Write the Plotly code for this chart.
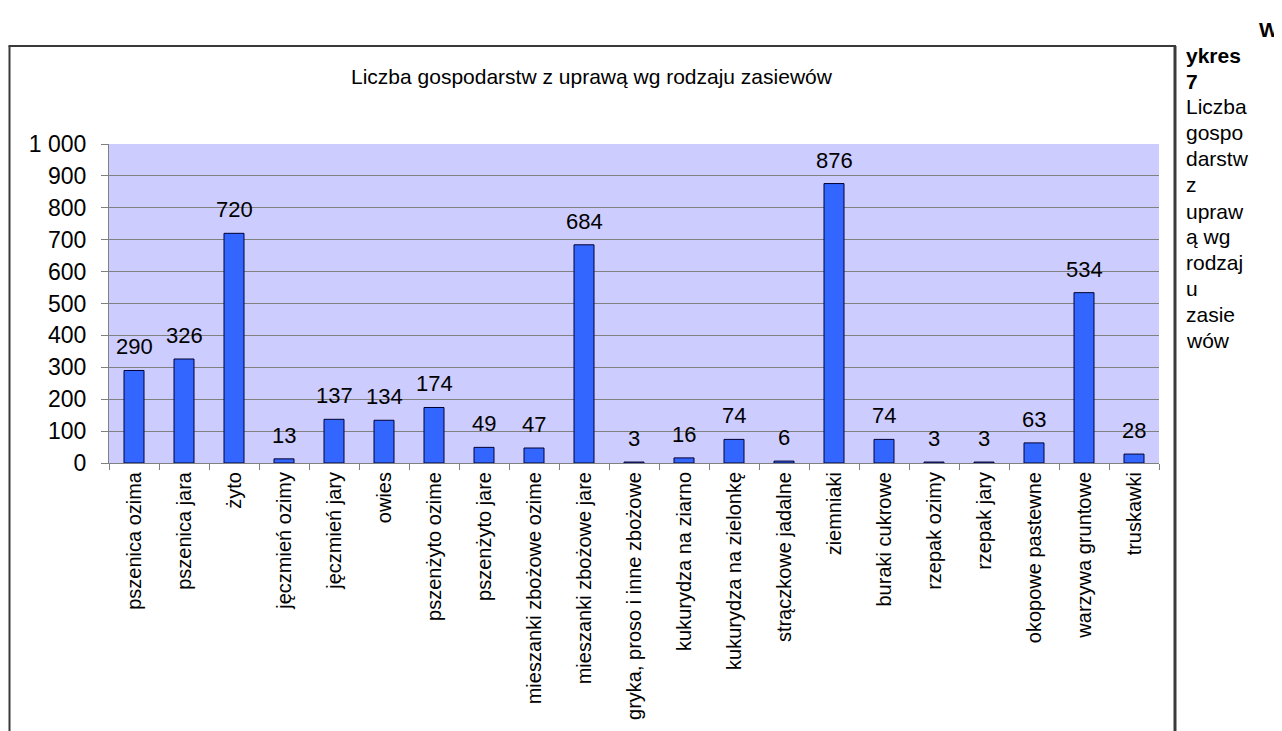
import plotly.graph_objects as go

categories = ["pszenica ozima", "pszenica jara", "żyto", "jęczmień ozimy", "jęczmień jary",
              "owies", "pszenżyto ozime", "pszenżyto jare", "mieszanki zbożowe ozime",
              "mieszanki zbożowe jare", "gryka, proso i inne zbożowe", "kukurydza na ziarno",
              "kukurydza na zielonkę", "strączkowe jadalne", "ziemniaki", "buraki cukrowe",
              "rzepak ozimy", "rzepak jary", "okopowe pastewne", "warzywa gruntowe", "truskawki"]
values = [290, 326, 720, 13, 137, 134, 174, 49, 47, 684, 3, 16, 74, 6, 876, 74, 3, 3, 63, 534, 28]
y_tickvals = [0, 100, 200, 300, 400, 500, 600, 700, 800, 900, 1000]
y_ticktext = ["0", "100", "200", "300", "400", "500", "600", "700", "800", "900", "1 000"]
title_text = "Liczba gospodarstw z uprawą wg rodzaju zasiewów"
side_lines = ["<b>W</b>", "<b>ykres</b>", "<b>7</b>", "Liczba", "gospo", "darstw", "z",
              "upraw", "ą wg", "rodzaj", "u", "zasie", "wów"]
side_align = ["right", "left", "left", "left", "left", "left", "left",
              "left", "left", "left", "left", "left", "left"]

FONT = "Arial, Liberation Sans, sans-serif"
OFF = 8  # page body margin
W, H = 1282 - OFF, 731 - OFF
# plot area in reference-page pixels
L, R, T, B = 109, 1159, 144, 463

def px_x(px):
    return (px - L) / (R - L)

def px_y(py):
    return (B - py) / (B - T)

fig = go.Figure()
fig.add_trace(go.Bar(
    x=categories, y=values,
    marker=dict(color="#3366FF", line=dict(color="#000033", width=1)),
    hoverinfo="x+y",
))

for c, v in zip(categories, values):
    fig.add_annotation(x=c, y=v, text=str(v), showarrow=False, yanchor="bottom",
                       yshift=9, font=dict(family=FONT, size=22, color="#000000"))

# chart frame (left, top, right)
frame_color = "#3a3a3a"
fig.add_shape(type="line", xref="paper", yref="paper", x0=px_x(9.5), x1=px_x(9.5),
              y0=px_y(46), y1=px_y(760), line=dict(color=frame_color, width=2))
fig.add_shape(type="line", xref="paper", yref="paper", x0=px_x(8.5), x1=px_x(1176),
              y0=px_y(46), y1=px_y(46), line=dict(color=frame_color, width=2))
fig.add_shape(type="line", xref="paper", yref="paper", x0=px_x(1175), x1=px_x(1175),
              y0=px_y(46), y1=px_y(760), line=dict(color=frame_color, width=3))

fig.add_annotation(xref="paper", yref="paper", x=px_x(592), y=px_y(77), text=title_text,
                   showarrow=False, xanchor="center", yanchor="middle",
                   font=dict(family=FONT, size=21, color="#000000"))

side_y = [30, 56, 81, 107, 132, 158, 184, 211, 236, 262, 288, 314, 340]
for txt, al, yy in zip(side_lines, side_align, side_y):
    xx = 1281 if al == "right" else 1184
    fig.add_annotation(xref="paper", yref="paper", x=px_x(xx), y=px_y(yy), text=txt,
                       showarrow=False, xanchor=al, yanchor="middle",
                       font=dict(family=FONT, size=21, color="#000000"))

fig.update_layout(
    width=W, height=H,
    margin=dict(l=L - OFF, r=W - (R - OFF), t=T - OFF, b=H - (B - OFF), pad=0),
    paper_bgcolor="#FFFFFF", plot_bgcolor="#CCCCFF",
    showlegend=False, bargap=0.6,
    font=dict(family=FONT, color="#000000"),
)
fig.update_xaxes(
    type="category", tickangle=-90, tickfont=dict(family=FONT, size=20, color="#000000"),
    showline=True, linecolor="#808080", linewidth=1,
    ticks="outside", tickson="boundaries", ticklen=6, tickcolor="#808080",
    showgrid=False, zeroline=False,
)
fig.update_yaxes(
    range=[0, 1000], tickvals=y_tickvals, ticktext=y_ticktext,
    tickfont=dict(family=FONT, size=23, color="#000000"),
    showline=True, linecolor="#808080", linewidth=1,
    ticks="outside", ticklen=7, tickcolor="#808080", ticklabelstandoff=10,
    showgrid=True, gridcolor="#808080", gridwidth=1, zeroline=False,
)

fig.write_html("out.html")
